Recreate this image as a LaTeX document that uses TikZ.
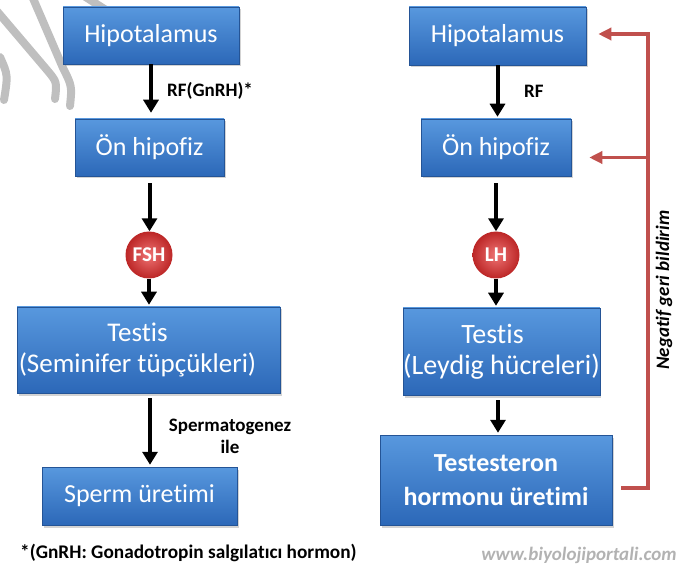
\documentclass[tikz,border=0pt]{standalone}
\usepackage{fontspec}
\setmainfont{Carlito}[Ligatures=NoCommon]
\usetikzlibrary{arrows.meta, shadows, positioning}
\definecolor{kutuust}{RGB}{88,152,222}
\definecolor{kutualt}{RGB}{44,104,184}
\definecolor{kutukenar}{RGB}{36,84,150}
\definecolor{topic}{RGB}{238,115,115}
\definecolor{topdis}{RGB}{188,38,38}
\definecolor{gerikirmizi}{RGB}{192,80,77}
\tikzset{
  blok/.style = {
    draw=kutukenar, line width=0.5pt, top color=kutuust, bottom color=kutualt,
    text=white, align=center, inner sep=0pt,
    font=\fontsize{26}{32}\selectfont,
    drop shadow={opacity=0.35, shadow xshift=1.5pt, shadow yshift=-2.5pt}
  },
  hormon/.style = {
    circle, shading=radial, inner color=topic, outer color=topdis,
    text=white, inner sep=0pt,
    minimum size=47pt, font=\bfseries\fontsize{21}{24}\selectfont
  },
  ok/.style = {-{Triangle[width=15pt,length=13pt]}, line width=4pt},
  geri/.style = {draw=gerikirmizi, line width=3.5pt, -{Triangle[width=12pt,length=13pt]}},
  etiket/.style = {font=\bfseries\fontsize{19}{22}\selectfont, inner sep=0pt},
  iz/.style = {draw=gray!50, line width=8pt, line cap=round}
}

\begin{document}
\begin{tikzpicture}[x=1pt, y=-1pt]
  \useasboundingbox (0,0) rectangle (694,572);

  % watermark strokes
  \draw[iz] (32,-4) -- (63,68) .. controls (72,86) .. (70,106);
  \draw[iz] (-4,10) -- (47,70) .. controls (57,82) .. (55,99);
  \draw[iz] (0,57) .. controls (8,75) .. (4,100);
  \draw[iz] (84,-4) -- (106,10);

  % Left column
  \node[blok, minimum width=176pt, minimum height=57pt] (hipoSol) at (151,35.5) {Hipotalamus};
  \node[blok, minimum width=149pt, minimum height=57pt] (onhipSol) at (149.5,147.5) {Ön hipofiz};
  \node[hormon] (fsh) at (149,255) {FSH};
  \node[blok, minimum width=263pt, minimum height=86pt, font=\fontsize{27}{31}\selectfont] (testisSol) at (148.5,350) {Testis\hspace*{22pt}\\(Seminifer tüpçükleri)\hspace*{22pt}};
  \node[blok, minimum width=195pt, minimum height=58pt] (sperm) at (139.5,496) {Sperm üretimi};

  \draw[ok] (hipoSol.south) -- ([yshift=6pt]hipoSol.south |- onhipSol.north);
  \draw[ok] ([yshift=-7pt]onhipSol.south) -- (onhipSol.south |- fsh.north);
  \draw[ok] (fsh.south) -- ([yshift=2pt]fsh.south |- testisSol.north);
  \draw[ok] ([xshift=1.5pt,yshift=-5pt]testisSol.south) -- ([xshift=1.5pt,yshift=2pt]testisSol.south |- sperm.north);

  \node[etiket, anchor=west] (rfSol) at (167,91) {RF(GnRH)*};
  \node[etiket, align=center] (spermato) at (230,436) {Spermatogenez\\ile};

  % Right column
  \node[blok, minimum width=177pt, minimum height=58pt] (hipoSag) at (497.5,36) {Hipotalamus};
  \node[blok, minimum width=150pt, minimum height=57pt] (onhipSag) at (496,147.5) {Ön hipofiz};
  \node[hormon] (lh) at (496,255) {LH};
  \node[blok, minimum width=196pt, minimum height=87pt, font=\fontsize{28}{31}\selectfont] (testisSag) at (501.5,351.5) {Testis\hspace*{18pt}\\(Leydig hücreleri)};
  \node[blok, minimum width=232pt, minimum height=90pt, font=\bfseries\fontsize{26}{34}\selectfont] (testos) at (496,480) {Testesteron\\hormonu üretimi};

  \draw[ok] (hipoSag.south) -- ([yshift=2pt]hipoSag.south |- onhipSag.north);
  \draw[ok] ([yshift=-7pt]onhipSag.south) -- (onhipSag.south |- lh.north);
  \draw[ok] (lh.south) -- ([yshift=2pt]lh.south |- testisSag.north);
  \draw[ok] ([xshift=-3.5pt,yshift=-5pt]testisSag.south) -- ([xshift=-3.5pt,yshift=2pt]testisSag.south |- testos.north);

  \node[etiket, anchor=west] (rfSag) at (524,91) {RF};

  % Negative feedback
  \coordinate (geriust) at (648,34);
  \draw[geri] ([xshift=9pt,yshift=-8pt]testos.east) -| (geriust) -- ([xshift=12pt]hipoSag.east |- geriust);
  \draw[geri] ([yshift=-10pt]geriust |- onhipSag.east) -- ([xshift=18pt,yshift=-10pt]onhipSag.east);
  \node[font=\bfseries\itshape\fontsize{19}{22}\selectfont, rotate=90, inner sep=0pt] (negatif) at (664,290) {Negatif geri bildirim};

  % Footnote and source
  \node[etiket, font=\bfseries\fontsize{19.3}{22}\selectfont, anchor=west] (dipnot) at (20,553) {*(GnRH: Gonadotropin salgılatıcı hormon)};
  \node[font=\bfseries\itshape\fontsize{19}{22}\selectfont, text=gray!60, inner sep=0pt] (kaynak) at (579,555) {www.biyolojiportali.com};
\end{tikzpicture}
\end{document}
